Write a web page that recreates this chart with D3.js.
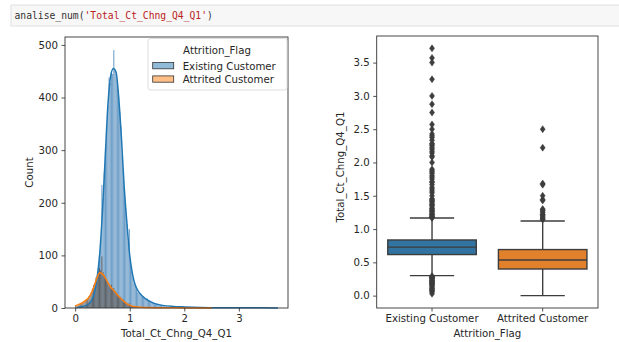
<!DOCTYPE html>
<html>
<head>
<meta charset="utf-8">
<script src="https://cdn.jsdelivr.net/npm/d3@7"></script>
<style>
  html, body { margin: 0; padding: 0; background: #fff; }
  svg { display: block; }
  .tick text { font-family: "DejaVu Sans", sans-serif; font-size: 10.2px; fill: #262626; }
  .tick line { stroke: #262626; stroke-width: 0.8; }
  .domain { display: none; }
</style>
</head>
<body>
<svg id="chart" width="619" height="342"></svg>
<script>
// Total_Ct_Chng_Q4_Q1 split by Attrition_Flag
const groups = ["Existing Customer", "Attrited Customer"];
const groupColors = ["#1f77b4", "#ff7f0e"];
const boxColors = ["#3274a1", "#e1812c"];

// histogram: common bins over [0, 3.714]
const binStart = 0;
const binEnd = 3.714;
const binCount = 170;

const existingCounts = [
  1,1,1,2,1,2,2,3,3,5,
  6,8,11,14,18,24,31,41,52,76,
  101,130,234,208,258,300,343,384,438,428,
  450,445,490,452,446,425,402,372,345,290,
  262,222,190,160,125,150,85,70,58,47,
  41,35,30,28,26,24,21,22,19,17,
  18,13,12,10,9,8,7,6,8,5,
  5,4,4,3,4,3,3,2,2,2,
  3,2,1,2,1,2,1,1,1,1,
  1,3,0,1,0,1,1,0,1,1,
  0,1,1,0,1,0,1,1,0,1,
  0,0,0,0,1,0,0,1,0,0,
  0,0,0,0,0,1,0,0,0,0,
  0,1,0,0,0,0,0,1,0,0,
  0,0,0,0,0,0,0,0,1,0,
  0,0,0,0,0,0,0,0,0,0,
  1,0,0,1,0,0,0,0,0,1
];

const attritedCounts = [
  5,3,4,6,7,8,10,11,13,15,
  17,22,24,30,37,44,48,58,62,70,
  76,72,98,68,62,58,52,48,43,40,
  44,35,38,32,30,27,24,22,20,17,
  16,13,11,9,7,9,5,4,3,3,
  2,2,2,1,2,1,1,1,0,1,
  0,0,0,0,0,1,0,1,1,0,
  0,0,0,0,0,0,1,1,0,0,
  0,0,0,0,0,0,0,0,0,0,
  0,0,0,0,0,0,0,0,0,0,
  0,1,0,0,0,0,0,0,0,0,
  0,0,0,0,1,0,0,0,0,0,
  0,0,0,0,0,0,0,0,0,0,
  0,0,0,0,0,0,0,0,0,0,
  0,0,0,0,0,0,0,0,0,0,
  0,0,0,0,0,0,0,0,0,0,
  0,0,0,0,0,0,0,0,0,0
];

// density curves, scaled to counts per bin: [value, count]
const existingKde = [
  [0.028,1],[0.1,2],[0.2,5],[0.25,8],[0.3,14],[0.35,28],[0.4,55],[0.45,103],
  [0.5,182],[0.55,285],[0.6,385],[0.65,440],[0.7,455],[0.75,448],[0.8,398],
  [0.85,320],[0.9,228],[0.95,160],[1.0,100],[1.05,65],[1.1,44],[1.15,33],
  [1.2,26],[1.25,21],[1.3,17],[1.4,11],[1.5,7],[1.6,5],[1.8,3],[2.0,2],
  [2.3,1],[2.6,0.6],[3.0,0.4],[3.4,0.3],[3.714,0.2]
];
const attritedKde = [
  [0,4],[0.05,6],[0.1,8],[0.15,11],[0.2,15],[0.25,20],[0.3,29],[0.35,42],
  [0.4,57],[0.45,67],[0.5,65],[0.55,58],[0.6,48],[0.65,40],[0.7,34],
  [0.75,28],[0.8,22],[0.85,17],[0.9,12],[0.95,8],[1.0,5.5],[1.05,3.5],
  [1.1,2.5],[1.2,1.5],[1.3,1],[1.5,0.6],[1.7,0.4],[2.0,0.2],[2.5,0.1]
];

// box plot summaries
const q1 = [0.617, 0.400];
const medians = [0.728, 0.535];
const q3 = [0.836, 0.692];
const whiskerLow = [0.300, 0.000];
const whiskerHigh = [1.165, 1.122];
const existingOutliers = [
  0.028,0.053,0.067,0.077,0.091,0.1,0.111,0.125,0.143,0.154,0.167,0.176,0.182,
  0.188,0.2,0.211,0.214,0.222,0.231,0.238,0.25,0.263,0.267,0.273,0.278,0.286,0.292,
  1.167,1.176,1.182,1.188,1.2,1.214,1.222,1.231,1.25,1.267,1.273,1.286,1.3,1.308,
  1.333,1.357,1.364,1.375,1.4,1.417,1.429,1.444,1.455,1.5,1.545,1.571,1.6,1.625,
  1.667,1.7,1.714,1.75,1.778,1.8,1.833,1.857,1.875,1.9,2.0,2.083,2.1,2.143,2.167,
  2.2,2.222,2.25,2.273,2.286,2.333,2.375,2.4,2.429,2.5,2.571,2.75,2.875,3.0,3.25,
  3.5,3.571,3.714
];
const attritedOutliers = [
  1.143,1.15,1.167,1.182,1.2,1.214,1.222,1.25,1.273,1.286,1.3,1.429,1.444,
  1.5,1.667,1.684,2.222,2.5
];

const histXTicks = [0, 1, 2, 3];
const histYTicks = [0, 100, 200, 300, 400, 500];
const boxYTicks = [0, 0.5, 1.0, 1.5, 2.0, 2.5, 3.0, 3.5];

const svg = d3.select("#chart");
const font = '"DejaVu Sans", sans-serif';
const fs = 10.2;
const ink = "#262626";

// ---- notebook code cell ----
svg.append("rect").attr("x", 11).attr("y", 5).attr("width", 620).attr("height", 21)
  .attr("fill", "#f7f7f7").attr("stroke", "#e0e0e0").attr("stroke-width", 1);
const code = svg.append("text").attr("x", 14.5).attr("y", 19)
  .attr("font-family", '"DejaVu Sans Mono", monospace').attr("font-size", 9.7);
code.append("tspan").attr("fill", "#333").text("analise_num(");
code.append("tspan").attr("fill", "#ba2121").text("'Total_Ct_Chng_Q4_Q1'");
code.append("tspan").attr("fill", "#333").text(")");

// ---- left: layered histogram with density curves ----
const L = { left: 65, right: 288, top: 37, bottom: 308 };
const xDomainPad = (binEnd - binStart) * 0.05;
const xH = d3.scaleLinear().domain([binStart - xDomainPad, binEnd + xDomainPad]).range([L.left, L.right]);
const yH = d3.scaleLinear().domain([0, 515]).range([L.bottom, L.top]);
const binW = (binEnd - binStart) / binCount;

const hist = svg.append("g");
function drawBars(counts, fill, opacity) {
  hist.append("g").selectAll("rect").data(counts).join("rect")
    .filter(d => d > 0)
    .attr("x", (d, i) => xH(binStart + i * binW))
    .attr("width", xH(binW) - xH(0) - 0.15)
    .attr("y", d => yH(d))
    .attr("height", d => yH(0) - yH(d))
    .attr("fill", fill).attr("fill-opacity", opacity);
}
drawBars(existingCounts, "#5890bf", 0.88);
drawBars(attritedCounts, "#5e5650", 0.8);

const kdeLine = d3.line().x(d => xH(d[0])).y(d => yH(d[1])).curve(d3.curveMonotoneX);
hist.append("path").datum(existingKde).attr("d", kdeLine)
  .attr("fill", "none").attr("stroke", groupColors[0]).attr("stroke-width", 1.5);
hist.append("path").datum(attritedKde).attr("d", kdeLine)
  .attr("fill", "none").attr("stroke", groupColors[1]).attr("stroke-width", 1.5);

svg.append("g").attr("transform", `translate(0,${L.bottom})`)
  .call(d3.axisBottom(xH).tickValues(histXTicks).tickFormat(d3.format("d")).tickSize(3.5).tickPadding(3.5));
svg.append("g").attr("transform", `translate(${L.left},0)`)
  .call(d3.axisLeft(yH).tickValues(histYTicks).tickFormat(d3.format("d")).tickSize(3.5).tickPadding(3.5));
svg.append("rect").attr("x", L.left).attr("y", L.top)
  .attr("width", L.right - L.left).attr("height", L.bottom - L.top)
  .attr("fill", "none").attr("stroke", "#333").attr("stroke-width", 0.9);

svg.append("text").attr("transform", `translate(30,${(L.top + L.bottom) / 2}) rotate(-90)`)
  .attr("text-anchor", "middle").attr("dominant-baseline", "middle")
  .attr("font-family", font).attr("font-size", fs).attr("fill", ink).text("Count");
svg.append("text").attr("x", (L.left + L.right) / 2).attr("y", 337)
  .attr("text-anchor", "middle").attr("font-family", font).attr("font-size", fs)
  .attr("fill", ink).text("Total_Ct_Chng_Q4_Q1");

// legend
const lg = svg.append("g").attr("transform", "translate(148,38.5)");
lg.append("rect").attr("width", 139).attr("height", 51.5).attr("rx", 2.5)
  .attr("fill", "#fff").attr("fill-opacity", 0.8).attr("stroke", "#d6d6d6").attr("stroke-width", 0.8);
lg.append("text").attr("x", 69).attr("y", 15.5).attr("text-anchor", "middle")
  .attr("font-family", font).attr("font-size", fs).attr("fill", ink).text("Attrition_Flag");
groups.forEach((g, i) => {
  lg.append("rect").attr("x", 4.7).attr("y", 24 + i * 13.4).attr("width", 21).attr("height", 6.3)
    .attr("fill", groupColors[i]).attr("fill-opacity", 0.5)
    .attr("stroke", "#333").attr("stroke-width", 0.8);
  lg.append("text").attr("x", 34.7).attr("y", 31 + i * 13.4)
    .attr("font-family", font).attr("font-size", fs).attr("fill", ink).text(g);
});

// ---- right: box plot ----
const R = { left: 376.7, right: 598, top: 36, bottom: 308 };
const xB = d3.scaleBand().domain(groups).range([R.left, R.right]);
const yB = d3.scaleLinear().domain([binStart - xDomainPad, binEnd + xDomainPad]).range([R.bottom, R.top]);
const boxW = xB.bandwidth() * 0.8;
const lineCol = "#3d3d3d";
const diamond = "M0,-3.5L2.5,0L0,3.5L-2.5,0Z";

const outlierSets = [existingOutliers, attritedOutliers];
groups.forEach((g, i) => {
  const cx = xB(g) + xB.bandwidth() / 2;
  const gg = svg.append("g");
  // whiskers
  gg.append("line").attr("x1", cx).attr("x2", cx).attr("y1", yB(q3[i])).attr("y2", yB(whiskerHigh[i]))
    .attr("stroke", lineCol).attr("stroke-width", 1.4);
  gg.append("line").attr("x1", cx).attr("x2", cx).attr("y1", yB(q1[i])).attr("y2", yB(whiskerLow[i]))
    .attr("stroke", lineCol).attr("stroke-width", 1.4);
  [whiskerHigh[i], whiskerLow[i]].forEach(v => {
    gg.append("line").attr("x1", cx - boxW / 4).attr("x2", cx + boxW / 4)
      .attr("y1", yB(v)).attr("y2", yB(v)).attr("stroke", lineCol).attr("stroke-width", 1.4);
  });
  // box
  gg.append("rect").attr("x", cx - boxW / 2).attr("width", boxW)
    .attr("y", yB(q3[i])).attr("height", yB(q1[i]) - yB(q3[i]))
    .attr("fill", boxColors[i]).attr("stroke", lineCol).attr("stroke-width", 1.4);
  gg.append("line").attr("x1", cx - boxW / 2).attr("x2", cx + boxW / 2)
    .attr("y1", yB(medians[i])).attr("y2", yB(medians[i]))
    .attr("stroke", lineCol).attr("stroke-width", 1.4);
  // outliers
  gg.append("g").selectAll("path").data(outlierSets[i]).join("path")
    .attr("d", diamond).attr("transform", d => `translate(${cx},${yB(d)})`)
    .attr("fill", lineCol).attr("stroke", lineCol).attr("stroke-width", 0.5);
});

svg.append("g").attr("transform", `translate(0,${R.bottom})`)
  .call(d3.axisBottom(xB).tickSize(3.5).tickPadding(3.5));
svg.append("g").attr("transform", `translate(${R.left},0)`)
  .call(d3.axisLeft(yB).tickValues(boxYTicks).tickFormat(d3.format(".1f")).tickSize(3.5).tickPadding(3.5));
svg.append("rect").attr("x", R.left).attr("y", R.top)
  .attr("width", R.right - R.left).attr("height", R.bottom - R.top)
  .attr("fill", "none").attr("stroke", "#333").attr("stroke-width", 0.9);

svg.append("text").attr("transform", `translate(341,${(R.top + R.bottom) / 2 - 5}) rotate(-90)`)
  .attr("text-anchor", "middle").attr("dominant-baseline", "middle")
  .attr("font-family", font).attr("font-size", fs).attr("fill", ink).text("Total_Ct_Chng_Q4_Q1");
svg.append("text").attr("x", (R.left + R.right) / 2).attr("y", 337)
  .attr("text-anchor", "middle").attr("font-family", font).attr("font-size", fs)
  .attr("fill", ink).text("Attrition_Flag");
</script>
</body>
</html>
